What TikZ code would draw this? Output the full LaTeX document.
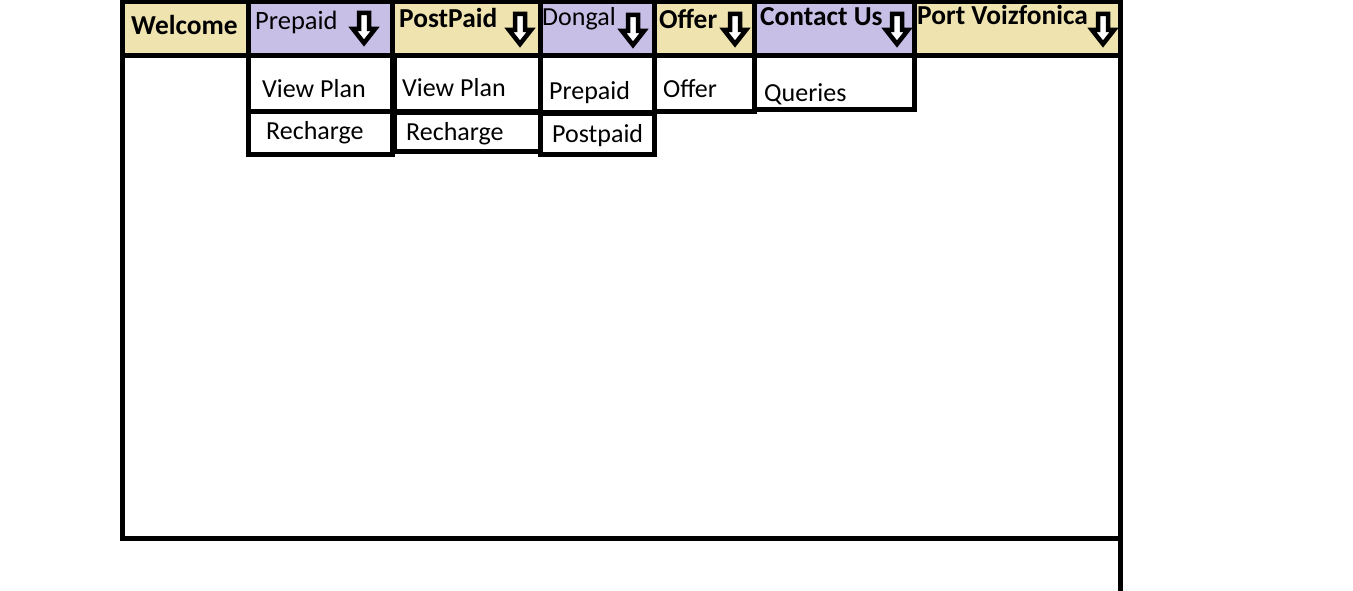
\documentclass[tikz,border=0pt]{standalone}
\usepackage{fontspec}
\setmainfont{Carlito}
\usetikzlibrary{positioning}
\definecolor{PaintTan}{HTML}{EFE4B0}
\definecolor{PaintLavender}{HTML}{C8BFE7}

\tikzset{
  boxline/.style={line width=5pt, line cap=rect},
  menulabel/.style={anchor=base west, inner sep=0pt, font=\fontsize{27.4}{31}\selectfont\bfseries},
  itemlabel/.style={anchor=base west, inner sep=0pt, font=\fontsize{26}{30}\selectfont},
  droparrow/.pic={
    \draw[line width=4.5pt, fill=white, line join=miter]
      (-5,0) -- (5,0) -- (5,16) -- (11,16) -- (0,30) -- (-11,16) -- (-5,16) -- cycle;
  }
}

\begin{document}
\begin{tikzpicture}[x=1pt, y=-1pt]
  \useasboundingbox (0,0) rectangle (1353,591);

  % Header fills
  \foreach \xa/\xb/\col in {122/248/PaintTan, 248/392/PaintLavender, 392/540/PaintTan,
      540/654/PaintLavender, 654/754/PaintTan, 754/914/PaintLavender, 914/1120/PaintTan} {
    \fill[\col] (\xa,2) rectangle (\xb,56);
  }

  % Outer frame
  \draw[boxline] (122,0) -- (122,538) -- (1120,538);
  \draw[boxline] (1120,0) -- (1120,595);
  \draw[boxline] (122,2) -- (1120,2);
  \draw[boxline] (122,56) -- (1120,56);

  % Header separators
  \foreach \x in {248, 392, 540, 654, 754, 914} {
    \draw[boxline] (\x,2) -- (\x,56);
  }

  % Drop-down boxes
  \draw[boxline] (248,56) rectangle (392,112);
  \draw[boxline] (248,112) rectangle (392,155);
  \draw[boxline] (394,56) rectangle (540,112);
  \draw[boxline] (394,113) rectangle (540,152);
  \draw[boxline] (540,56) rectangle (654,113);
  \draw[boxline] (540,114) rectangle (654,155);
  \draw[boxline] (654,56) rectangle (754,112);
  \draw[boxline] (754,56) rectangle (914,110);

  % Menu bar
  \node[menulabel] (welcome) at (131,35) {Welcome};
  \node[itemlabel, font=\fontsize{26.5}{30}\selectfont] (prepaid) at (255,30) {Prepaid};
  \node[menulabel] (postpaid) at (399,28) {PostPaid};
  \node[itemlabel] (dongal) at (542,26) {Dongal};
  \node[menulabel] (offer) at (659,29) {Offer};
  \node[menulabel] (contact) at (760,26) {Contact Us};
  \node[menulabel] (port) at (917,25) {Port Voizfonica};

  % Drop-down arrows
  \foreach \x/\y in {364/13, 520/14, 633/15, 735/14, 897/14, 1103/14} {
    \pic at (\x,\y) {droparrow};
  }

  % Drop-down items
  \node[itemlabel] (prepaidView) at (262,98) {View Plan};
  \node[itemlabel] (prepaidRecharge) at (266,140) {Recharge};
  \node[itemlabel] (postpaidView) at (402,97) {View Plan};
  \node[itemlabel] (postpaidRecharge) at (406,141) {Recharge};
  \node[itemlabel] (dongalPrepaid) at (549,100) {Prepaid};
  \node[itemlabel] (dongalPostpaid) at (552,143) {Postpaid};
  \node[itemlabel] (offerItem) at (663,98) {Offer};
  \node[itemlabel] (queries) at (764,102) {Queries};
\end{tikzpicture}
\end{document}
